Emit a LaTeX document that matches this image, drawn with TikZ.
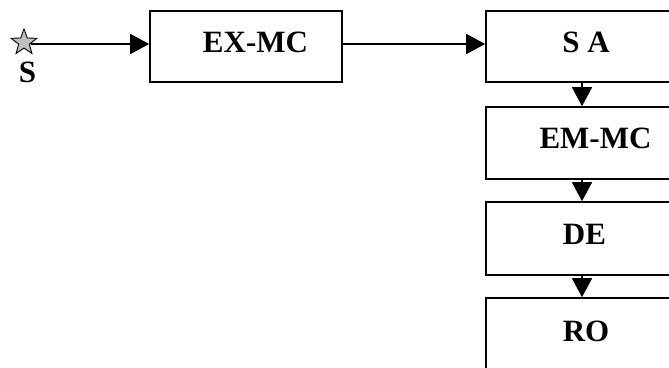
\documentclass[tikz,border=0pt]{standalone}
\usepackage{fontspec}
\setmainfont{Liberation Serif}
\usetikzlibrary{arrows.meta}
\begin{document}
\begin{tikzpicture}[x=1pt,y=-1pt,
  box/.style={draw,line width=1.6pt,inner sep=0pt,minimum width=192pt},
  lbl/.style={inner sep=0pt,anchor=base,font=\bfseries\fontsize{31}{31}\selectfont},
  marker/.style={draw,line width=0.9pt,line join=miter,fill=black!25},
  arr/.style={line width=1.6pt,-{Triangle[length=19pt,width=20pt]}}]
\useasboundingbox (0,0) rectangle (669,367);
\clip (0,0) rectangle (669,367);

% source marker: five-pointed star, point up
\draw[marker,shift={(24,42.5)}]
  (270:13.5) -- (306:5.6) -- (342:13.5) -- (18:5.6) -- (54:13.5) --
  (90:5.6) -- (126:13.5) -- (162:5.6) -- (198:13.5) -- (234:5.6) -- cycle;
\coordinate (src) at (31,44);
\node[lbl] (srclbl) at (27.5,82) {S};

% processing blocks
\node[box,minimum height=71pt] (exmc) at (246,46.5) {};
\node[box,minimum height=71pt] (sa)   at (582,46.5) {};
\node[box,minimum height=72pt] (emmc) at (582,143) {};
\node[box,minimum height=73pt] (de)   at (582,238.5) {};
\node[box,minimum height=72pt] (ro)   at (582,334) {};

% block captions
\node[lbl] (exmct) at (255.5,52) {EX-MC};
\node[lbl] (sat)   at (586,52) {S A};
\node[lbl] (emmct) at (595.5,148) {EM-MC};
\node[lbl] (det)   at (584.5,244) {DE};
\node[lbl] (rot)   at (586,341) {RO};

% flow
\draw[arr] (src) -- (src -| exmc.west);
\draw[arr] ([yshift=2.5pt]exmc.east) -- ([yshift=2.5pt]sa.west);
\draw[arr] (sa.south) -- (emmc.north);
\draw[arr] (emmc.south) -- (de.north);
\draw[arr] (de.south) -- (ro.north);
\end{tikzpicture}
\end{document}
